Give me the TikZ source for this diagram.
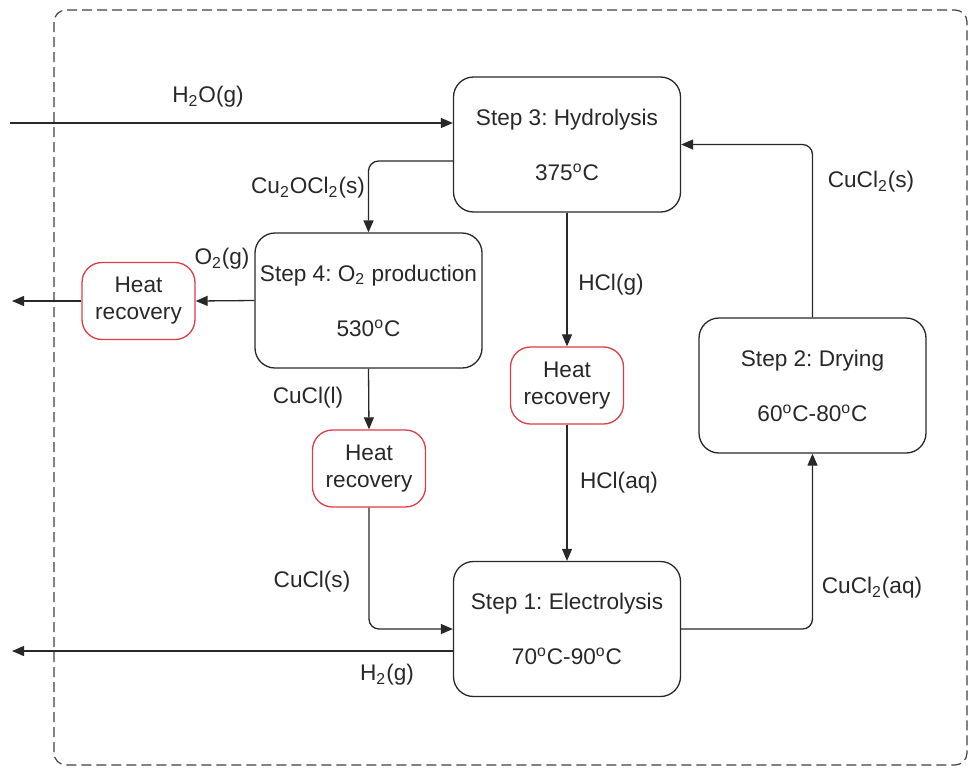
\documentclass[tikz,border=0pt]{standalone}
\usepackage{fontspec}
\setmainfont{Liberation Sans}
\usetikzlibrary{arrows.meta}
\definecolor{hrred}{RGB}{222,60,70}
\definecolor{ink}{RGB}{40,40,40}
\frenchspacing
\begin{document}
\begin{tikzpicture}[x=0.5pt,y=-0.5pt,
  font=\fontsize{11.3}{13.5}\selectfont\frenchspacing,
  stepbox/.style={draw=ink, line width=0.65pt, rounded corners=10pt, minimum width=113.5pt, minimum height=67.5pt, inner sep=0pt, align=center, text=ink},
  heatbox/.style={draw=hrred, line width=0.65pt, rounded corners=10pt, minimum width=56.5pt, minimum height=38.5pt, inner sep=0pt, align=center, text=ink},
  flow/.style={draw=ink, line width=0.65pt, -{Triangle[length=6pt,width=5pt]}},
  lbl/.style={inner sep=0pt, text=ink}
]
\useasboundingbox (0,0) rectangle (969,768);
\draw[black!75, dash pattern=on 5pt off 2.5pt, line width=0.6pt, rounded corners=6pt] (54,10) rectangle (967,765);

\node[stepbox] (s3) at (567,144.5) {Step 3: Hydrolysis\\[14pt]375\textsuperscript{o}C};
\node[stepbox] (s4) at (368.5,300.5) {Step 4: O\textsubscript{2} production\\[14pt]530\textsuperscript{o}C};
\node[stepbox] (s1) at (567,629) {Step 1: Electrolysis\\[14pt]70\textsuperscript{o}C-90\textsuperscript{o}C};
\node[stepbox] (s2) at (812.5,385.5) {Step 2: Drying\\[14pt]60\textsuperscript{o}C-80\textsuperscript{o}C};
\node[heatbox] (h1) at (138.5,301) {Heat\\recovery};
\node[heatbox] (h2) at (369,468.5) {Heat\\recovery};
\node[heatbox] (h3) at (567,385.5) {Heat\\recovery};

\coordinate (inH2O) at (10,123);
\coordinate (outO2) at (12,301);
\coordinate (outH2) at (12,651);

\draw[flow] (inH2O) -- (inH2O -| s3.west);
\draw[flow, rounded corners=5pt] ([yshift=-8.25pt]s3.west) -| (s4.north);
\draw[flow] (s4.west) -- (h1.east);
\draw[flow] (h1.west) -- (outO2);
\draw[flow] (s4.south) -- (h2.north);
\draw[flow, rounded corners=5pt] (h2.south) |- (s1.west);
\draw[flow] ([yshift=-11pt]s1.west) -- (outH2);
\draw[flow] (s3.south) -- (h3.north);
\draw[flow] (h3.south) -- (s1.north);
\draw[flow, rounded corners=5pt] (s1.east) -| (s2.south);
\draw[flow, rounded corners=5pt] (s2.north) |- (s3.east);

\node[lbl] (lH2O) at (208,97) {H\textsubscript{2}O(g)};
\node[lbl] (lCu2) at (308,188) {Cu\textsubscript{2}OCl\textsubscript{2}(s)};
\node[lbl] (lO2) at (222,259) {O\textsubscript{2}(g)};
\node[lbl] (lCuCll) at (308,398) {CuCl(l)};
\node[lbl] (lCuCls) at (312,582) {CuCl(s)};
\node[lbl] (lH2) at (387,675) {H\textsubscript{2}(g)};
\node[lbl] (lHClg) at (611,285) {HCl(g)};
\node[lbl] (lHClaq) at (619,483) {HCl(aq)};
\node[lbl] (lCuCl2s) at (871,182) {CuCl\textsubscript{2}(s)};
\node[lbl] (lCuCl2aq) at (872,588) {CuCl\textsubscript{2}(aq)};
\end{tikzpicture}
\end{document}
